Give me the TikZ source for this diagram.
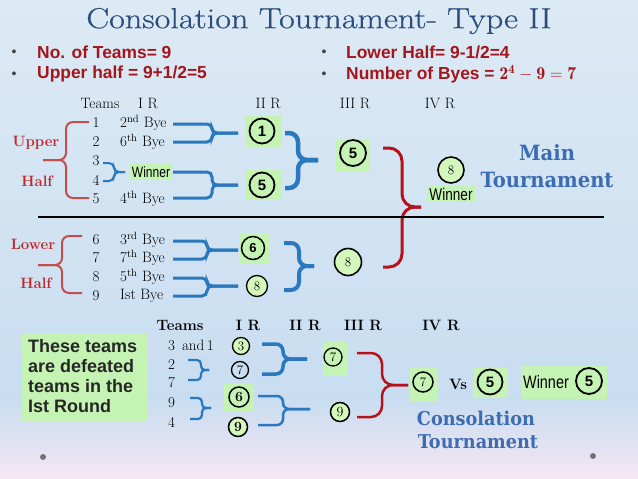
\documentclass[tikz,border=0pt]{standalone}
\usepackage{fontspec}
\usepackage{graphicx}
\newfontfamily\arialn[FakeStretch=0.8]{Liberation Sans}
\newfontfamily\arial{Liberation Sans}
\newfontfamily\slab[FakeStretch=0.93]{DejaVu Serif}
\newfontfamily\titlefont[FakeStretch=1.18, FakeBold=0.5]{Latin Modern Roman}
\definecolor{bgtop}{HTML}{DCEAF4}
\definecolor{bgmid}{HTML}{C9DDF1}
\definecolor{bgbot}{HTML}{F6E6F3}
\definecolor{titleblue}{HTML}{2B4C7C}
\definecolor{bulred}{HTML}{A3161D}
\definecolor{lblred}{HTML}{C0272D}
\definecolor{bracered}{HTML}{C0504D}
\definecolor{bigred}{HTML}{B5121B}
\definecolor{bblue}{HTML}{2A78BE}
\definecolor{gfill}{HTML}{C4F3B4}
\definecolor{cfill}{HTML}{D4F8BC}
\definecolor{slabblue}{HTML}{3C6CB2}
\begin{document}
\begin{tikzpicture}[x=1pt,y=-1pt,
  serif/.style={font=\fontsize{15}{17}\selectfont, inner sep=1pt},
  bserif/.style={font=\bfseries\fontsize{15}{16}\selectfont, inner sep=1pt},
  bullet/.style={anchor=west, text=bulred, font=\arial\bfseries\fontsize{17.4}{18}\selectfont, inner sep=0pt},
  dot/.style={anchor=center, text=black!75, font=\arial\fontsize{14}{14}\selectfont, inner sep=0pt},
  halflbl/.style={text=lblred, font=\bfseries\fontsize{15}{16}\selectfont, inner sep=1pt},
  gbox/.style={fill=gfill, draw=none, inner sep=0pt},
  winbox/.style={fill=gfill, draw=none, inner sep=2pt, font=\arialn\fontsize{15}{16}\selectfont},
  circS/.style={circle, draw=black, line width=1.8pt, inner sep=0pt, minimum size=#1, font=\arial\bfseries\fontsize{15}{15}\selectfont},
  circR/.style={circle, draw=black, line width=1.3pt, inner sep=0pt, minimum size=#1, font=\fontsize{13}{13}\selectfont},
  circB/.style={circle, draw=black, line width=1.5pt, inner sep=0pt, minimum size=#1, font=\bfseries\fontsize{14}{14}\selectfont},
  lbrace/.style={draw=bracered, line width=2pt, rounded corners=7pt},
  bbr/.style={draw=bblue, line width=#1, rounded corners=5pt},
  rbrace/.style={draw=bigred, line width=#1, rounded corners=13pt},
  slabtxt/.style={text=slabblue, font=\slab\bfseries\fontsize{21}{22}\selectfont, inner sep=0pt}
]
% background
\shade[top color=bgtop, bottom color=bgmid] (0,0) rectangle (638,400);
\shade[top color=bgmid, bottom color=bgbot] (0,400) rectangle (638,479);
\useasboundingbox (0,0) rectangle (638,479);

% title
\node[text=titleblue, font=\titlefont\fontsize{29}{30}\selectfont, inner sep=0pt] (title) at (319,21) {Consolation Tournament- Type II};

% bullets
\node[dot] (d1) at (14,53) {•};
\node[dot] (d2) at (14,75) {•};
\node[dot] (d3) at (324,53) {•};
\node[dot] (d4) at (324,75) {•};
\node[bullet] (b1) at (37,52) {No. of Teams= 9};
\node[bullet] (b2) at (37,74) {Upper half = 9+1/2=5};
\node[bullet] (b3) at (346,52) {Lower Half= 9-1/2=4};
\node[bullet] (b4) at (346,74) {Number of Byes = {\fontsize{18}{18}\selectfont$\mathbf{2}^{\mathbf{4}}-\mathbf{9}=\mathbf{7}$}};

% ---------- upper headers ----------
\node[serif] (hT) at (100,103) {Teams};
\node[serif] (hI) at (148,103) {I R};
\node[serif] (hII) at (268,103) {II R};
\node[serif] (hIII) at (355,103) {III R};
\node[serif] (hIV) at (440,103) {IV R};

% upper teams
\node[serif] (t1) at (96,123) {1};
\node[serif] (t2) at (96,142) {2};
\node[serif] (t3) at (96,161) {3};
\node[serif] (t4) at (96,180) {4};
\node[serif] (t5) at (96,199) {5};
\node[serif, anchor=west] (y1) at (119,123) {2\textsuperscript{nd} Bye};
\node[serif, anchor=west] (y2) at (119,142) {6\textsuperscript{th} Bye};
\node[serif, anchor=west] (y5) at (119,199) {4\textsuperscript{th} Bye};

\node[halflbl] (up) at (36,143) {Upper};
\node[halflbl] (uh) at (37,181) {Half};
\draw[lbrace] (89,122) -| (66,160) -- (43,160);
\draw[lbrace] (89,198) -| (66,160) -- (43,160);

% 3-4 brace and winner
\draw[bbr=2pt] (103,163) -| (114,172) -- (125,172);
\draw[bbr=2pt] (103,181) -| (114,172) -- (125,172);
\node[winbox] (w1) at (151,172) {Winner};

% first blue brackets
\draw[bbr=3pt] (173,124) -| (212,133) -- (238,133);
\draw[bbr=3pt] (173,142) -| (212,133) -- (238,133);
\draw[bbr=3pt] (173,172) -| (212,185) -- (238,185);
\draw[bbr=3pt] (173,198) -| (212,185) -- (238,185);

\node[gbox, minimum width=37pt, minimum height=31pt] (gb1) at (263.5,131.5) {};
\node[circS=25pt] (c1) at (262,131) {1};
\node[gbox, minimum width=37pt, minimum height=30pt] (gb5) at (263.5,185) {};
\node[circS=25pt] (c5) at (262,185) {5};

% II->III brace
\draw[bbr=4.5pt, rounded corners=9pt] (285,133) -| (298,160) -- (318,160);
\draw[bbr=4.5pt, rounded corners=9pt] (285,188) -| (298,160) -- (318,160);

\node[gbox, minimum width=34pt, minimum height=31pt] (gb3) at (353,155) {};
\node[circS=26pt] (c35) at (353,153) {5};

% big red brace
\draw[rbrace=3pt] (383,148) -| (402,207) -- (421,207);
\draw[rbrace=3pt] (383,267) -| (402,207) -- (421,207);

\node[circR=26pt, fill=cfill, line width=1.6pt] (c48) at (451,170) {8};
\node[winbox, font=\arialn\fontsize{17}{17}\selectfont] (w2) at (451,194) {Winner};

\node[slabtxt] (mt1) at (547,153) {Main};
\node[slabtxt] (mt2) at (547,180) {Tournament};

% divider
\draw[line width=2.5pt] (38,217) -- (604,217);

% ---------- lower half ----------
\node[serif] (t6) at (96,240) {6};
\node[serif] (t7) at (96,258) {7};
\node[serif] (t8) at (96,277) {8};
\node[serif] (t9) at (96,296) {9};
\node[serif, anchor=west] (y6) at (119,240) {3\textsuperscript{rd} Bye};
\node[serif, anchor=west] (y7) at (119,258) {7\textsuperscript{th} Bye};
\node[serif, anchor=west] (y8) at (119,277) {5\textsuperscript{th} Bye};
\node[serif, anchor=west] (y9) at (119,296) {Ist Bye};

\node[halflbl] (lo) at (33,244) {Lower};
\node[halflbl] (lh) at (36,283) {Half};
\draw[lbrace] (82,236) -| (62,265) -- (38,265);
\draw[lbrace] (82,293) -| (62,265) -- (38,265);

\draw[bbr=3pt] (173,241) -| (207,250) -- (238,250);
\draw[bbr=3pt] (173,259) -| (207,250) -- (238,250);
\draw[bbr=3pt] (173,278) -| (207,286) -- (238,286);
\draw[bbr=3pt] (173,296) -| (207,286) -- (238,286);

\node[gbox, minimum width=30pt, minimum height=29pt] (gb6) at (253.5,248) {};
\node[circS=23pt, line width=1.5pt, font=\arial\bfseries\fontsize{13}{13}\selectfont] (c6) at (253,248) {6};
\node[circR=21pt, fill=cfill] (c8) at (257,286) {8};

\draw[bbr=4pt, rounded corners=8pt] (284,243) -| (299,266) -- (314,266);
\draw[bbr=4pt, rounded corners=8pt] (284,290) -| (299,266) -- (314,266);

\node[circR=27pt, fill=cfill, line width=1.6pt] (c38) at (348,262) {8};

% ---------- consolation ----------
\node[gbox, minimum width=126pt, minimum height=88pt] (note) at (85,378) {};
\node[anchor=north west, align=left, font=\arial\bfseries\fontsize{18}{20}\selectfont, text=black!85, inner sep=0pt] (notetxt) at (28,339) {These teams\\are defeated\\teams in the\\Ist Round};

\node[bserif] (cT) at (180,325) {Teams};
\node[bserif] (cI) at (248,325) {I R};
\node[bserif] (cII) at (305,325) {II R};
\node[bserif] (cIII) at (363,325) {III R};
\node[bserif] (cIV) at (441,325) {IV R};

\node[serif, anchor=west] (s31) at (167,345) {3\, and\,1};
\node[serif, anchor=west] (s2) at (167,365) {2};
\node[serif, anchor=west] (s7) at (167,383) {7};
\node[serif, anchor=west] (s9) at (167,403) {9};
\node[serif, anchor=west] (s4) at (167,422) {4};

\draw[bbr=2.2pt, rounded corners=4pt] (188,360) -| (201,370) -- (209,370);
\draw[bbr=2.2pt, rounded corners=4pt] (188,380) -| (201,370) -- (209,370);
\draw[bbr=2.2pt, rounded corners=4pt] (190,398) -| (202,408) -- (211,408);
\draw[bbr=2.2pt, rounded corners=4pt] (190,419) -| (202,408) -- (211,408);

\node[circR=17pt, fill=cfill] (k3) at (241,346) {3};
\node[circR=17pt] (k7) at (240,370) {7};
\node[gbox, minimum width=30pt, minimum height=29pt] (gb6b) at (239,397.5) {};
\node[circB=20pt] (k6) at (239,397) {6};
\node[circB=19pt, fill=cfill] (k9) at (238,427) {9};

\draw[bbr=3.5pt, rounded corners=7pt] (262,344) -| (283,359) -- (307,359);
\draw[bbr=3.5pt, rounded corners=7pt] (262,374) -| (283,359) -- (307,359);
\draw[bbr=2.5pt, rounded corners=6pt] (258,396) -| (283,409) -- (310,409);
\draw[bbr=2.5pt, rounded corners=6pt] (258,425) -| (283,409) -- (310,409);

\node[gbox, minimum width=25pt, minimum height=34pt] (gb7) at (335.5,359) {};
\node[circR=18pt] (m7) at (333,357) {7};
\node[circB=19pt, fill=cfill, font=\fontsize{14}{14}\selectfont] (m9) at (340,412) {9};

\draw[rbrace=2.5pt, rounded corners=11pt] (357,353) -| (382,385) -- (408,385);
\draw[rbrace=2.5pt, rounded corners=11pt] (357,417) -| (382,385) -- (408,385);

\node[gbox, minimum width=28pt, minimum height=35pt] (gb7c) at (424,384.5) {};
\node[circR=20pt, line width=1.5pt] (f7) at (423,382) {7};
\node[bserif] (vs) at (458,384) {Vs};
\node[gbox, minimum width=35pt, minimum height=31pt] (gb5c) at (490.5,382.5) {};
\node[circS=25pt] (f5) at (490,382) {5};
\node[gbox, minimum width=86pt, minimum height=33pt] (gbw) at (564,382.5) {};
\node[font=\arialn\fontsize{18}{18}\selectfont, inner sep=0pt] (wtxt) at (546,382) {Winner};
\node[circS=26pt] (f5b) at (589,381) {5};

\node[slabtxt, font=\slab\bfseries\fontsize{19}{20}\selectfont] (ct1) at (476,418) {Consolation};
\node[slabtxt, font=\slab\bfseries\fontsize{19}{20}\selectfont] (ct2) at (478,442) {Tournament};

% decorative dots
\fill[black!55] (43,457) circle (3pt);
\fill[black!55] (593,456) circle (3pt);
\end{tikzpicture}
\end{document}
